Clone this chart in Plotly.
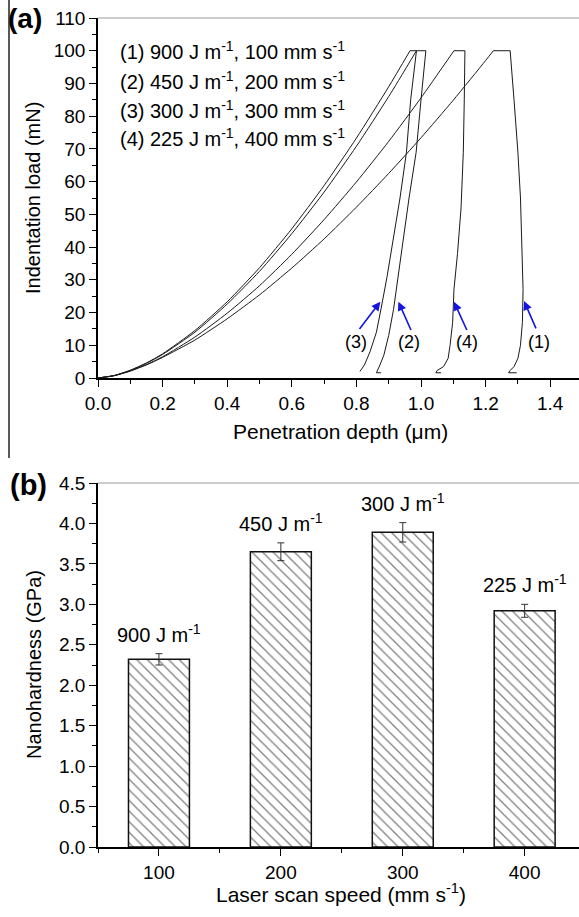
import plotly.graph_objects as go

W, H = 579, 917

# ---------------- (a) load-depth curves ----------------
c1_load_d = [0.0, 0.05, 0.1, 0.15, 0.2, 0.3, 0.4, 0.5, 0.6, 0.7, 0.8, 0.9, 1.0, 1.1, 1.2, 1.224]
c1_load_p = [0.0, 0.75, 2.2, 4.0, 6.3, 11.6, 18.1, 25.4, 33.6, 42.5, 52.2, 62.5, 73.4, 84.9, 97.0, 100.0]
c1_rest_d = [1.224, 1.276, 1.288, 1.300, 1.308, 1.312, 1.316, 1.314, 1.308, 1.300, 1.288, 1.276, 1.271, 1.296]
c1_rest_p = [100.0, 100.0, 85.0, 69.0, 55.0, 42.0, 27.0, 17.0, 10.0, 6.0, 3.5, 2.3, 1.6, 1.6]

c2_load_d = [0.0, 0.05, 0.1, 0.15, 0.2, 0.3, 0.4, 0.5, 0.6, 0.7, 0.8, 0.9, 0.986]
c2_load_p = [0.0, 0.73, 2.3, 4.5, 7.2, 14.0, 22.6, 32.6, 44.1, 56.8, 70.8, 86.0, 100.0]
c2_rest_d = [0.986, 1.015, 1.000, 0.985, 0.963, 0.945, 0.930, 0.915, 0.900, 0.885, 0.873, 0.866, 0.862, 0.876]
c2_rest_p = [100.0, 100.0, 85.0, 69.0, 55.0, 42.0, 31.0, 21.0, 13.0, 7.0, 4.0, 2.3, 1.6, 1.6]

c3_load_d = [0.0, 0.05, 0.1, 0.15, 0.2, 0.3, 0.4, 0.5, 0.6, 0.7, 0.8, 0.9, 0.966]
c3_load_p = [0.0, 0.75, 2.4, 4.6, 7.4, 14.5, 23.3, 33.7, 45.6, 58.8, 73.3, 89.0, 100.0]
c3_rest_d = [0.966, 0.986, 0.968, 0.955, 0.935, 0.914, 0.895, 0.878, 0.862, 0.842, 0.825, 0.811]
c3_rest_p = [100.0, 100.0, 85.0, 69.0, 55.0, 42.0, 31.0, 22.0, 14.0, 8.0, 4.0, 2.0]

c4_load_d = [0.0, 0.05, 0.1, 0.15, 0.2, 0.3, 0.4, 0.5, 0.6, 0.7, 0.8, 0.9, 1.0, 1.102]
c4_load_p = [0.0, 0.71, 2.1, 4.1, 6.5, 12.5, 19.8, 28.2, 37.8, 48.4, 59.9, 72.3, 85.6, 100.0]
c4_rest_d = [1.102, 1.136, 1.134, 1.131, 1.124, 1.113, 1.102, 1.098, 1.090, 1.084, 1.070, 1.050, 1.046, 1.062]
c4_rest_p = [100.0, 100.0, 85.0, 69.0, 52.0, 38.0, 27.0, 17.0, 10.0, 6.0, 3.5, 2.3, 1.6, 1.6]

legend_lines = ["(1) 900 J m<sup>-1</sup>, 100 mm s<sup>-1</sup>",
                "(2) 450 J m<sup>-1</sup>, 200 mm s<sup>-1</sup>",
                "(3) 300 J m<sup>-1</sup>, 300 mm s<sup>-1</sup>",
                "(4) 225 J m<sup>-1</sup>, 400 mm s<sup>-1</sup>"]
legend_y = [100, 91, 82, 73.5]

arrow_labels = ["(3)", "(2)", "(4)", "(1)"]
label_x = [0.800, 0.964, 1.141, 1.366]
label_y = [10.9, 10.9, 10.9, 10.9]
arrow_tail_x = [0.806, 0.971, 1.144, 1.358]
arrow_tail_y = [14.5, 14.2, 14.2, 14.7]
arrow_head_x = [0.874, 0.930, 1.102, 1.319]
arrow_head_y = [23.3, 23.3, 23.3, 23.5]

# ---------------- (b) nanohardness bars ----------------
speeds = [100, 200, 300, 400]
hardness = [2.32, 3.65, 3.89, 2.92]
hard_err = [0.07, 0.11, 0.12, 0.08]
bar_labels = ["900 J m<sup>-1</sup>", "450 J m<sup>-1</sup>", "300 J m<sup>-1</sup>", "225 J m<sup>-1</sup>"]

FONT = "Liberation Sans, Arial, sans-serif"
fig = go.Figure()

line_style = dict(color="#1a1a1a", width=1)
for ld, lp, rd, rp in [(c1_load_d, c1_load_p, c1_rest_d, c1_rest_p),
                       (c2_load_d, c2_load_p, c2_rest_d, c2_rest_p),
                       (c3_load_d, c3_load_p, c3_rest_d, c3_rest_p),
                       (c4_load_d, c4_load_p, c4_rest_d, c4_rest_p)]:
    fig.add_trace(go.Scatter(x=ld, y=lp, mode="lines", line=dict(shape="spline", smoothing=0.6, **line_style),
                             xaxis="x", yaxis="y", showlegend=False, hoverinfo="skip"))
    fig.add_trace(go.Scatter(x=rd, y=rp, mode="lines", line=line_style,
                             xaxis="x", yaxis="y", showlegend=False, hoverinfo="skip"))

fig.add_trace(go.Bar(x=speeds, y=hardness, width=50, xaxis="x2", yaxis="y2",
                     marker=dict(color="white", line=dict(color="#111", width=1.5),
                                 pattern=dict(shape="\\", fgcolor="black", bgcolor="white",
                                              size=7.5, solidity=0.17)),
                     error_y=dict(type="data", array=hard_err, color="#333", thickness=1, width=3.5),
                     showlegend=False, hoverinfo="skip"))

ax_common = dict(showline=True, linecolor="black", linewidth=1.5, showgrid=False, zeroline=False,
                 ticks="outside", ticklen=7, tickwidth=1.3, tickcolor="black",
                 tickfont=dict(family=FONT, size=19, color="black"), automargin=False)

fig.update_layout(
    width=W, height=H, margin=dict(l=0, r=0, t=0, b=0),
    paper_bgcolor="white", plot_bgcolor="white",
    xaxis=dict(domain=[98 / W, 1.0], range=[0, 481 / 323], dtick=0.2, tick0=0, tickformat=".1f",
               minor=dict(dtick=0.1, ticks="outside", ticklen=4, tickcolor="black"),
               anchor="y", **ax_common),
    yaxis=dict(domain=[1 - 378 / H, 1 - 18 / H], range=[0, 110], dtick=10, tick0=0,
               minor=dict(dtick=5, ticks="outside", ticklen=4, tickcolor="black"),
               anchor="x", **ax_common),
    xaxis2=dict(domain=[98 / W, 1.0], range=[50, 50 + 481 / 1.219], tickmode="array",
                tickvals=speeds, ticktext=[str(s) for s in speeds],
                minor=dict(tick0=50, dtick=50, ticks="outside", ticklen=4, tickcolor="black"),
                anchor="y2", **ax_common),
    yaxis2=dict(domain=[1 - 847 / H, 1 - 483 / H], range=[0, 4.5], dtick=0.5, tick0=0, tickformat=".1f",
                minor=dict(dtick=0.25, ticks="outside", ticklen=4, tickcolor="black"),
                anchor="x2", **ax_common),
)

shapes = [
    dict(type="line", xref="x domain", yref="y domain", x0=0, x1=1, y0=1, y1=1, line=dict(color="#999", width=1)),
    dict(type="line", xref="x2 domain", yref="y2 domain", x0=0, x1=1, y0=1, y1=1, line=dict(color="#999", width=1)),
    dict(type="line", xref="paper", yref="paper", x0=9 / W, x1=9 / W, y0=1, y1=1 - 458 / H,
         line=dict(color="#222", width=1.5)),
]
fig.update_layout(shapes=shapes)

ann = []
for t, yv in zip(legend_lines, legend_y):
    ann.append(dict(x=0.062, y=yv, xref="x", yref="y", text=t, showarrow=False, xanchor="left",
                    yanchor="middle", font=dict(family=FONT, size=20, color="black")))
for t, lx, ly in zip(arrow_labels, label_x, label_y):
    ann.append(dict(x=lx, y=ly, xref="x", yref="y", text=t, showarrow=False, xanchor="center",
                    yanchor="middle", font=dict(family=FONT, size=18, color="black")))
for tx, ty, hx, hy in zip(arrow_tail_x, arrow_tail_y, arrow_head_x, arrow_head_y):
    ann.append(dict(x=hx, y=hy, xref="x", yref="y", ax=tx, ay=ty, axref="x", ayref="y", text="",
                    showarrow=True, arrowhead=2, arrowsize=1.1, arrowwidth=1.6, arrowcolor="#1515e0"))
for s, h, e, t in zip(speeds, hardness, hard_err, bar_labels):
    ann.append(dict(x=s, y=h + e, xref="x2", yref="y2", text=t, showarrow=False, xanchor="center",
                    yanchor="bottom", yshift=6, font=dict(family=FONT, size=20, color="black")))

ann += [
    dict(x=340 / W, y=1 - 432 / H, xref="paper", yref="paper", text="Penetration depth (\u03bcm)",
         showarrow=False, xanchor="center", yanchor="middle", font=dict(family=FONT, size=21, color="black")),
    dict(x=33 / W, y=1 - 198 / H, xref="paper", yref="paper", text="Indentation load (mN)", textangle=-90,
         showarrow=False, xanchor="center", yanchor="middle", font=dict(family=FONT, size=20, color="black")),
    dict(x=341 / W, y=1 - 893 / H, xref="paper", yref="paper", text="Laser scan speed (mm s<sup>-1</sup>)",
         showarrow=False, xanchor="center", yanchor="middle", font=dict(family=FONT, size=21, color="black")),
    dict(x=34 / W, y=1 - 665 / H, xref="paper", yref="paper", text="Nanohardness (GPa)", textangle=-90,
         showarrow=False, xanchor="center", yanchor="middle", font=dict(family=FONT, size=20, color="black")),
    dict(x=25 / W, y=1 - 19 / H, xref="paper", yref="paper", text="<b>(a)</b>",
         showarrow=False, xanchor="center", yanchor="middle", font=dict(family=FONT, size=28, color="black")),
    dict(x=28 / W, y=1 - 485 / H, xref="paper", yref="paper", text="<b>(b)</b>",
         showarrow=False, xanchor="center", yanchor="middle", font=dict(family=FONT, size=29, color="black")),
]
fig.update_layout(annotations=ann)

fig.write_html("out.html", config={"displayModeBar": False},
               post_script="document.body.style.margin='0';document.body.style.overflow='hidden';")
